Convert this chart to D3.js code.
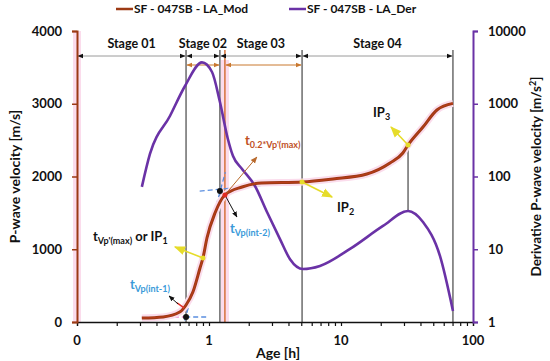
<!DOCTYPE html>
<html>
<head>
<meta charset="utf-8">
<script src="https://cdn.jsdelivr.net/npm/d3@7"></script>
<style>
  body { margin: 0; background: #fff; }
  svg { display: block; font-family: Lato, "Open Sans", sans-serif; font-weight: bold; }
</style>
</head>
<body>
<svg id="canvas" width="550" height="361"></svg>
<script>
// modelled P-wave velocity (m/s) vs age (h)
let modAge = [0.31, 0.45, 0.6, 0.67, 0.755, 0.855, 0.9, 0.965, 1.11, 1.32, 1.78, 2.5, 5.07, 8.7, 15.7, 23.5, 29.4, 32.2, 41.8, 53.3, 70.5]
let modV   = [55, 70, 137, 234, 412, 742, 880, 1155, 1498, 1746, 1856, 1911, 1924, 1966, 2034, 2186, 2323, 2433, 2680, 2914, 3005]
// derivative of P-wave velocity (m/s2)
let derAge = [0.31, 0.357, 0.506, 0.658, 0.885, 1.054, 1.21, 1.39, 1.52, 1.78, 2.23, 2.75, 3.45, 4.11, 5.15, 6.93, 11.7, 20.8, 32.2, 41.8, 56.2, 70.5]
let derV   = [72, 204, 679, 1754, 3700, 2730, 1057, 328, 191, 127, 74, 32.5, 13.8, 7.3, 5.35, 5.9, 10.1, 20.9, 33.6, 23.7, 8.1, 1.42]

let ageTicks = [0.1, 1, 10, 100]
let ageTickLabels = ['0', '1', '10', '100']
let vTicks = [0, 1000, 2000, 3000, 4000]
let dTicks = [1, 10, 100, 1000, 10000]

let stageBounds = [0.1, 0.67, 1.21, 5.07, 70.5]
let stageNames = ['Stage 01', 'Stage 02', 'Stage 03', 'Stage 04']
let orangeSpans = [[0.67, 1.21], [1.32, 5.07]]
let t02Age = 1.32

// tangent lines used to pick the intersection times
let tangentLow = [[0.31, 69], [0.66, 69]]
let tangentLowBlue = [[0.66, 69], [0.97, 69]]
let tangentSteep = [[0.655, 20], [1.33, 2060]]
let tangentHigh = [[0.85, 1800], [5.07, 1925]]
let intPoints = [[0.67, 69], [1.21, 1800]]

// inflection points
let ipAge = [0.9, 5.07, 32.2]
let ipV = [880, 1924, 2433]

let canvas = d3.select('#canvas')
let plotL = 77, plotR = 473, plotT = 31, plotB = 322

let x = d3.scaleLog().domain([0.1, 100]).range([plotL, plotR])
let yL = d3.scaleLinear().domain([0, 4000]).range([plotB, plotT])
let yR = d3.scaleLog().domain([1, 10000]).range([plotB, plotT])

let brown = '#9c3a14'
let purple = '#6a32a6'
let orange = '#d0601e'
let yellow = '#e6dc2a'
let blue = '#5b8fe0'
let pink = '#fbdcec'

// arrow heads
let defs = canvas.append('defs')
let addMarker = (id, color, size) => {
  defs.append('marker')
      .attr('id', id)
      .attr('viewBox', '0 0 10 10')
      .attr('refX', 9).attr('refY', 5)
      .attr('markerWidth', size).attr('markerHeight', size)
      .attr('orient', 'auto-start-reverse')
      .append('path')
      .attr('d', 'M0,1 L10,5 L0,9 z')
      .attr('fill', color)
}
addMarker('ablack', '#111', 6)
addMarker('ayellow', yellow, 7)
addMarker('abrown', '#b8692c', 7)
addMarker('aorange', '#c9782f', 6)

// pink halos seen in the picture
canvas.append('rect').attr('x', plotL - 4).attr('y', plotT).attr('width', 8).attr('height', plotB - plotT)
      .attr('fill', pink)
canvas.append('rect').attr('x', x(t02Age) - 4).attr('y', 60).attr('width', 8).attr('height', plotB - 60)
      .attr('fill', pink)

// vertical stage separators
canvas.selectAll('.sep')
      .data(stageBounds.slice(1))
      .enter()
      .append('line')
      .attr('x1', d => x(d)).attr('x2', d => x(d))
      .attr('y1', 50).attr('y2', plotB)
      .attr('stroke', '#222').attr('stroke-width', 1)

canvas.append('line')
      .attr('x1', x(t02Age)).attr('x2', x(t02Age))
      .attr('y1', 50).attr('y2', plotB)
      .attr('stroke', orange).attr('stroke-width', 1.3)

// line between IP3 and the second derivative peak
canvas.append('line')
      .attr('x1', x(ipAge[2])).attr('x2', x(ipAge[2]))
      .attr('y1', yL(ipV[2])).attr('y2', yR(33.6))
      .attr('stroke', '#222').attr('stroke-width', 1)

// stage arrows
for (let i = 0; i < stageNames.length; i++) {
  canvas.append('line')
        .attr('x1', x(stageBounds[i]) + 1).attr('x2', x(stageBounds[i + 1]) - 1)
        .attr('y1', 56).attr('y2', 56)
        .attr('stroke', '#9a9a9a').attr('stroke-width', 1)
        .attr('marker-start', 'url(#ablack)').attr('marker-end', 'url(#ablack)')
  canvas.append('text')
        .attr('x', (x(stageBounds[i]) + x(stageBounds[i + 1])) / 2)
        .attr('y', 48)
        .attr('text-anchor', 'middle')
        .attr('font-size', 12.5)
        .attr('fill', '#111')
        .text(stageNames[i])
}
orangeSpans.forEach(s => {
  canvas.append('line')
        .attr('x1', x(s[0]) + 1).attr('x2', x(s[1]) - 1)
        .attr('y1', 65).attr('y2', 65)
        .attr('stroke', '#c9782f').attr('stroke-width', 1)
        .attr('marker-start', 'url(#aorange)').attr('marker-end', 'url(#aorange)')
})

// tangents
let seg = d3.line().x(d => x(d[0])).y(d => yL(d[1]))
canvas.append('path').attr('d', seg(tangentLow)).attr('stroke', '#e88ad0').attr('stroke-width', 1.3)
      .attr('stroke-dasharray', '5,3').attr('fill', 'none')
canvas.append('path').attr('d', seg(tangentLowBlue)).attr('stroke', blue).attr('stroke-width', 1.3)
      .attr('stroke-dasharray', '5,3').attr('fill', 'none')
canvas.append('path').attr('d', seg(tangentSteep)).attr('stroke', blue).attr('stroke-width', 1.3)
      .attr('stroke-dasharray', '5,3').attr('fill', 'none')
canvas.append('path').attr('d', seg(tangentHigh)).attr('stroke', blue).attr('stroke-width', 1.3)
      .attr('stroke-dasharray', '5,3').attr('fill', 'none')

// curves
let modLine = d3.line().x((d, i) => x(modAge[i])).y(d => yL(d)).curve(d3.curveMonotoneX)
let derLine = d3.line().x((d, i) => x(derAge[i])).y(d => yR(d)).curve(d3.curveMonotoneX)

canvas.append('path').attr('d', modLine(modV)).attr('fill', 'none')
      .attr('stroke', pink).attr('stroke-width', 7)
canvas.append('path').attr('d', derLine(derV)).attr('fill', 'none')
      .attr('stroke', purple).attr('stroke-width', 2.6)
canvas.append('path').attr('d', modLine(modV)).attr('fill', 'none')
      .attr('stroke', brown).attr('stroke-width', 3)
canvas.append('path').attr('d', modLine(modV)).attr('fill', 'none')
      .attr('stroke', '#d23a1e').attr('stroke-width', 1).attr('opacity', 0.6)

// intersection dots
canvas.selectAll('.dot')
      .data(intPoints)
      .enter()
      .append('circle')
      .attr('cx', d => x(d[0])).attr('cy', d => yL(d[1]))
      .attr('r', 3).attr('fill', '#111')

// annotation arrows
let arrow = (x1, y1, x2, y2, color, mk, w) => {
  canvas.append('line')
        .attr('x1', x1).attr('y1', y1).attr('x2', x2).attr('y2', y2)
        .attr('stroke', color).attr('stroke-width', w)
        .attr('marker-end', 'url(#' + mk + ')')
}
// IP markers
canvas.selectAll('.ip')
      .data(ipAge)
      .enter()
      .append('circle')
      .attr('cx', d => x(d)).attr('cy', (d, i) => yL(ipV[i]))
      .attr('r', 2.5).attr('fill', yellow)

arrow(x(ipAge[0]), yL(ipV[0]), x(ipAge[0]) - 28, yL(ipV[0]) - 11, yellow, 'ayellow', 1.6)
arrow(x(ipAge[1]), yL(ipV[1]), x(ipAge[1]) + 30, yL(ipV[1]) + 15, yellow, 'ayellow', 1.6)
arrow(x(ipAge[2]), yL(ipV[2]), x(ipAge[2]) - 17, yL(ipV[2]) - 18, yellow, 'ayellow', 1.6)

// t(int-1)
canvas.append('line').attr('x1', x(0.67) - 2).attr('y1', yL(234) + 3).attr('x2', x(0.67) - 9).attr('y2', yL(234) - 2)
      .attr('stroke', '#e0302a').attr('stroke-width', 1.5)
arrow(x(0.67) - 8, yL(234) - 1, x(0.67) - 17, yL(234) - 9, '#111', 'ablack', 1)
// t(int-2)
arrow(x(t02Age), yL(1746), x(t02Age) + 12, yL(1746) + 22, '#111', 'ablack', 1)
// t 0.2
arrow(x(t02Age), yL(1746), x(t02Age) + 32, yL(1746) - 38, '#b8692c', 'abrown', 1)
canvas.append('circle').attr('cx', x(t02Age)).attr('cy', yL(1746)).attr('r', 2.5).attr('fill', '#e02a20')

// annotation texts
let label = (tx, ty, parts, color) => {
  let t = canvas.append('text').attr('x', tx).attr('y', ty).attr('fill', color)
  parts.forEach(p => {
    t.append('tspan')
     .attr('font-size', p[1] ? 9 : 13)
     .attr('dy', p[2] || 0)
     .text(p[0])
  })
}
label(93, 241, [['t'], ['Vp\'(max)', true, 3], [' or IP', false, -3], ['1', true, 3]], '#111')
label(130, 289, [['t'], ['Vp(int-1)', true, 3]], '#3a9ad9')
label(230, 233, [['t'], ['Vp(int-2)', true, 3]], '#3a9ad9')
label(245, 145, [['t'], ['0.2*Vp\'(max)', true, 3]], '#c0501f')
label(337, 212, [['IP'], ['2', true, 3]], '#111')
label(373, 117, [['IP'], ['3', true, 3]], '#111')

// axes
let xAll = []
for (let k = 0.1; k < 100; k *= 10) {
  for (let m = 1; m <= 9; m++) xAll.push(k * m)
}
xAll.push(100)

let xAxis = d3.axisBottom(x).tickValues(xAll).tickSize(4).tickFormat('')
let gx = canvas.append('g').attr('transform', 'translate(0,' + plotB + ')').call(xAxis)
gx.select('.domain').attr('stroke', '#111').attr('stroke-width', 1.3)
gx.selectAll('.tick line').attr('stroke', '#111').attr('stroke-width', 1.2)

canvas.selectAll('.xl')
      .data(ageTicks)
      .enter()
      .append('text')
      .attr('x', d => x(d)).attr('y', 345)
      .attr('text-anchor', 'middle')
      .attr('font-size', 13)
      .attr('fill', '#111')
      .text((d, i) => ageTickLabels[i])

let yAxisL = d3.axisLeft(yL).tickValues(vTicks).tickSize(5).tickFormat(d => d)
let gl = canvas.append('g').attr('transform', 'translate(' + plotL + ',0)').call(yAxisL)
gl.select('.domain').attr('stroke', brown).attr('stroke-width', 2)
gl.selectAll('.tick line').attr('stroke', brown).attr('stroke-width', 1.5)
gl.selectAll('.tick text').attr('font-size', 13).attr('font-family', 'Lato').attr('font-weight', 'bold')
  .attr('fill', '#111').attr('x', -15)

let yAxisR = d3.axisRight(yR).tickValues(dTicks).tickSize(5).tickFormat(d => d)
let gr = canvas.append('g').attr('transform', 'translate(' + plotR + ',0)').call(yAxisR)
gr.select('.domain').attr('stroke', purple).attr('stroke-width', 2)
gr.selectAll('.tick line').attr('stroke', purple).attr('stroke-width', 1.5)
gr.selectAll('.tick text').attr('font-size', 13).attr('font-family', 'Lato').attr('font-weight', 'bold')
  .attr('fill', '#111').attr('x', 15)

// axis titles
canvas.append('text')
      .attr('transform', 'translate(20,' + ((plotT + plotB) / 2) + ') rotate(-90)')
      .attr('text-anchor', 'middle').attr('font-size', 14).attr('fill', '#111')
      .text('P-wave velocity [m/s]')
let rt = canvas.append('text')
      .attr('transform', 'translate(541,' + ((plotT + plotB) / 2) + ') rotate(-90)')
      .attr('text-anchor', 'middle').attr('font-size', 13.5).attr('fill', '#111')
rt.append('tspan').text('Derivative P-wave velocity [m/s')
rt.append('tspan').attr('font-size', 9).attr('dy', -5).text('2')
rt.append('tspan').attr('dy', 5).text(']')
canvas.append('text')
      .attr('x', 278).attr('y', 358)
      .attr('text-anchor', 'middle').attr('font-size', 14).attr('fill', '#111')
      .text('Age [h]')

// legend
let legend = [['SF - 047SB - LA_Mod', brown, 116], ['SF - 047SB - LA_Der', purple, 289]]
legend.forEach(l => {
  canvas.append('line').attr('x1', l[2]).attr('x2', l[2] + 17).attr('y1', 9).attr('y2', 9)
        .attr('stroke', l[1]).attr('stroke-width', 2.5)
  canvas.append('text').attr('x', l[2] + 18).attr('y', 13).attr('font-size', 12).attr('fill', '#111')
        .text(l[0])
})
</script>
</body>
</html>
